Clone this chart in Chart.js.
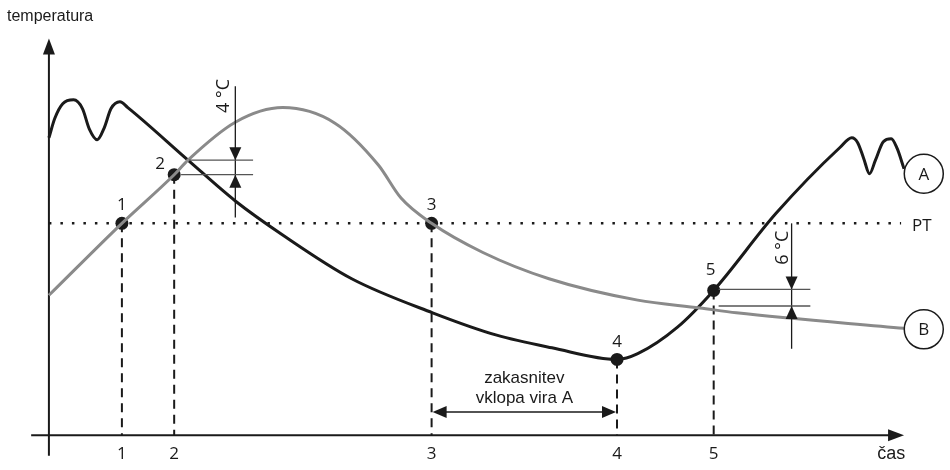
<!DOCTYPE html>
<html>
<head>
<meta charset="utf-8">
<script src="https://cdn.jsdelivr.net/npm/chart.js@4"></script>
<style>
html, body { margin: 0; padding: 0; background: #fff; }
</style>
</head>
<body>
<canvas id="chart" width="950" height="470"></canvas>
<script>
// curve A (black) and curve B (grey), time vs temperature in arbitrary units
const timeA = [0, 0.6, 1.4, 2.5, 3.4, 4.1, 4.9, 5.6, 6.3, 7.2, 8.0, 14.1, 18.9, 23.7, 30.7, 38.9, 45.4, 51.0, 57.6, 59.7, 63.7, 67.4, 73.7, 80.2, 81.4, 82.0, 82.6, 83.2, 83.8, 84.6, 85.4, 86.0, 86.7];
const tempA = [30.6, 32.6, 34.1, 34.5, 33.6, 31.5, 30.4, 31.6, 33.6, 34.3, 33.7, 28.3, 24.1, 20.6, 16.1, 12.6, 10.3, 9.0, 7.8, 8.4, 11.1, 14.9, 22.8, 29.6, 30.6, 30.1, 28.5, 26.9, 28.3, 30.2, 30.5, 29.5, 27.4];

const timeB = [0, 7.4, 12.7, 14.1, 18.9, 23.7, 29.0, 33.4, 35.7, 38.8, 44.0, 50.7, 59.7, 66.0, 69.7, 86.7];
const tempB = [14.4, 21.8, 26.8, 28.3, 32.2, 33.7, 32.1, 27.8, 24.4, 21.8, 18.8, 16.1, 13.9, 13.1, 12.6, 11.0];

// marked instants 1..5
const keyLabels = ['1', '2', '3', '4', '5'];
const keyTimes = [7.4, 12.7, 38.8, 57.6, 67.4];
const keyTemps = [21.8, 26.8, 21.8, 7.8, 14.9];

const ptLevel = 21.8;
const ptLabel = 'PT';
const yTitle = 'temperatura';
const xTitle = 'čas';
const seriesNames = ['A', 'B'];
const delayText = ['zakasnitev', 'vklopa vira A'];
const gapTexts = ['4 °C', '6 °C'];

const INK = '#1a1a1a';
const GREY = '#8a8a8a';
const NUM_FONT = '17px "Open Sans", "Noto Sans", sans-serif';
const TXT_FONT = '16px "Liberation Sans", Arial, sans-serif';

const series = (xs, ys) => xs.map((x, i) => ({ x: x, y: ys[i] }));

const datasets = [
    {
        data: series(timeB, tempB),
        borderColor: GREY, borderWidth: 3, cubicInterpolationMode: 'monotone',
        pointRadius: 0, showLine: true,
    },
    {
        data: series(timeA, tempA),
        borderColor: INK, borderWidth: 3, cubicInterpolationMode: 'monotone',
        pointRadius: 0, showLine: true,
    },
    {
        data: [{ x: 0, y: ptLevel }, { x: 86.4, y: ptLevel }],
        borderColor: INK, borderWidth: 2.5, borderDash: [2.5, 9],
        pointRadius: 0, showLine: true,
    },
];

// dashed drop lines from each marked point to the time axis
keyTimes.forEach((t, i) => {
    datasets.push({
        data: [{ x: t, y: keyTemps[i] }, { x: t, y: 0 }],
        borderColor: INK, borderWidth: 2, borderDash: [9, 6],
        pointRadius: 0, showLine: true,
    });
});

datasets.push({
    data: series(keyTimes, keyTemps),
    showLine: false,
    pointRadius: 6.5,
    pointBackgroundColor: INK,
    pointBorderColor: INK,
    pointBorderWidth: 0,
});

const tri = (c, x, y, dir, len, half) => {
    c.beginPath();
    c.moveTo(x, y);
    if (dir === 'up') { c.lineTo(x - half, y + len); c.lineTo(x + half, y + len); }
    if (dir === 'down') { c.lineTo(x - half, y - len); c.lineTo(x + half, y - len); }
    if (dir === 'left') { c.lineTo(x + len, y - half); c.lineTo(x + len, y + half); }
    if (dir === 'right') { c.lineTo(x - len, y - half); c.lineTo(x - len, y + half); }
    c.closePath();
    c.fill();
};

const line = (c, x1, y1, x2, y2, w, col) => {
    c.beginPath();
    c.lineWidth = w;
    c.strokeStyle = col;
    c.moveTo(x1, y1);
    c.lineTo(x2, y2);
    c.stroke();
};

const sketchPlugin = {
    id: 'sketch',
    beforeDatasetsDraw(chart) {
        const c = chart.ctx;
        const X = v => chart.scales.x.getPixelForValue(v);
        const Y = v => chart.scales.y.getPixelForValue(v);
        c.save();
        c.fillStyle = INK;
        // axes with arrow heads
        line(c, X(0), Y(-2.1), X(0), Y(39.5), 2, INK);
        tri(c, X(0), Y(40.8), 'up', 16, 6);
        line(c, X(-1.8), Y(0), X(85.5), Y(0), 2, INK);
        tri(c, X(86.7), Y(0), 'right', 16, 6);
        c.restore();
    },
    afterDatasetsDraw(chart) {
        const c = chart.ctx;
        const X = v => chart.scales.x.getPixelForValue(v);
        const Y = v => chart.scales.y.getPixelForValue(v);
        c.save();
        c.fillStyle = INK;
        c.textAlign = 'center';
        c.textBaseline = 'middle';

        // axis titles
        c.font = TXT_FONT;
        c.textAlign = 'left';
        c.fillText(yTitle, 7, 17);
        c.textAlign = 'center';
        c.font = '18px "Liberation Sans", Arial, sans-serif';
        c.fillText(xTitle, X(85.4), Y(-1.9));

        // labels at marked points and on time axis
        c.font = NUM_FONT;
        const offs = [[0, -18], [-14, -11], [0, -18], [0, -17], [-3, -20]];
        keyLabels.forEach((lab, i) => {
            const px = X(keyTimes[i]), py = Y(keyTemps[i]);
            c.fillText(lab, px + offs[i][0], py + offs[i][1]);
            c.fillText(lab, px, Y(-1.9));
        });

        // PT label and series circles
        c.fillText(ptLabel, X(88.5), Y(21.5));
        [26.9, 10.9].forEach((lvl, i) => {
            c.beginPath();
            c.lineWidth = 1.5;
            c.strokeStyle = INK;
            c.fillStyle = '#fff';
            c.arc(X(88.7), Y(lvl), 19.5, 0, Math.PI * 2);
            c.fill();
            c.stroke();
            c.fillStyle = INK;
            c.fillText(seriesNames[i], X(88.7), Y(lvl) + 1);
        });

        // 4 °C gap between the curves near instant 2
        const g1 = X(18.9);
        line(c, g1, Y(35.9), g1, Y(22.4), 1.3, INK);
        line(c, X(14.2), Y(28.3), X(20.7), Y(28.3), 1.3, '#555');
        line(c, X(13.4), Y(keyTemps[1]), X(20.7), Y(keyTemps[1]), 1.3, '#555');
        tri(c, g1, Y(28.3), 'down', 13, 6);
        tri(c, g1, Y(keyTemps[1]), 'up', 13, 6);

        // 6 °C gap near instant 5
        const g2 = X(75.3);
        line(c, g2, Y(ptLevel), g2, Y(8.9), 1.3, INK);
        line(c, X(67.9), Y(15.0), X(77.2), Y(15.0), 1.3, '#555');
        line(c, X(67.9), Y(13.3), X(77.2), Y(13.3), 1.3, '#555');
        tri(c, g2, Y(15.0), 'down', 13, 6);
        tri(c, g2, Y(13.3), 'up', 13, 6);

        // rotated gap texts
        c.font = '18px "Open Sans", "Noto Sans", sans-serif';
        [[17.7, 34.9], [74.4, 19.3]].forEach((p, i) => {
            c.save();
            c.translate(X(p[0]), Y(p[1]));
            c.rotate(-Math.PI / 2);
            c.fillText(gapTexts[i], 0, 0);
            c.restore();
        });

        // switch-on delay between instants 3 and 4
        const d1 = X(keyTimes[2]), d2 = X(keyTimes[3]), dy = Y(2.4);
        line(c, d1 + 8, dy, d2 - 8, dy, 1.5, INK);
        tri(c, d1 + 1, dy, 'left', 14, 6);
        tri(c, d2 - 1, dy, 'right', 14, 6);
        c.font = '17px "Liberation Sans", Arial, sans-serif';
        const mid = (d1 + d2) / 2;
        c.fillText(delayText[0], mid, Y(5.9));
        c.fillText(delayText[1], mid, Y(3.8));

        c.restore();
    },
};

new Chart(document.getElementById('chart').getContext('2d'), {
    type: 'scatter',
    data: { datasets: datasets },
    options: {
        responsive: false,
        animation: false,
        devicePixelRatio: 1,
        layout: { padding: 0 },
        plugins: { legend: { display: false }, tooltip: { enabled: false } },
        scales: {
            x: { type: 'linear', min: -4.3, max: 90.7, display: false },
            y: { type: 'linear', min: -2.9, max: 44.1, display: false },
        },
    },
    plugins: [sketchPlugin],
});
</script>
</body>
</html>
